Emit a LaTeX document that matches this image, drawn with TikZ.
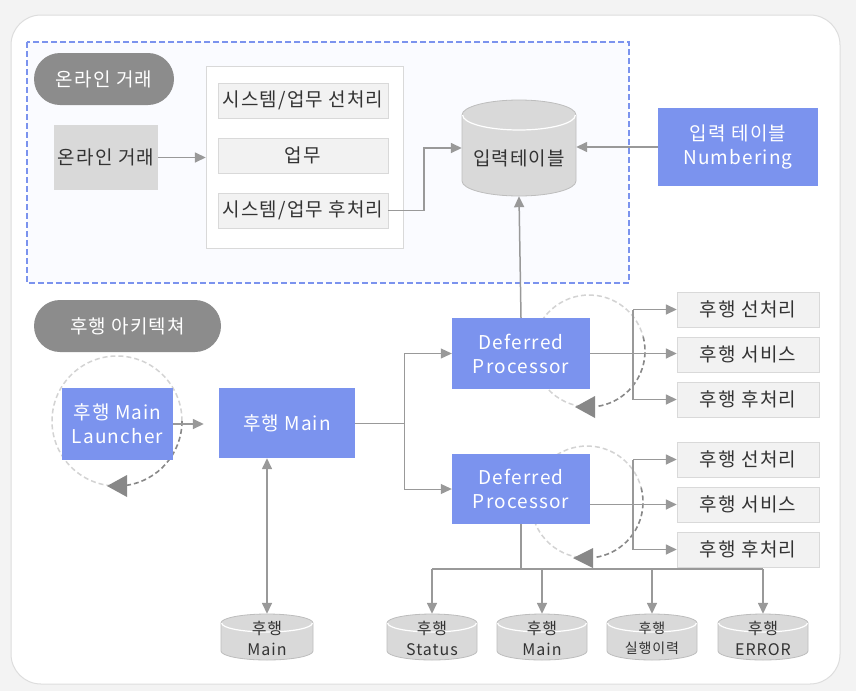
\documentclass[tikz,border=0pt]{standalone}
\usepackage{fontspec}
\setmainfont{Noto Sans CJK KR}[LetterSpace=6]
\usetikzlibrary{arrows.meta,calc}
\definecolor{bgc}{HTML}{F3F3F3}
\definecolor{frame}{HTML}{DDDDDD}
\definecolor{blu}{HTML}{7B93EE}
\definecolor{dashbg}{HTML}{FAFBFF}
\definecolor{pillc}{HTML}{8C8C8C}
\definecolor{boxfill}{HTML}{F2F2F2}
\definecolor{boxline}{HTML}{D9D9D9}
\definecolor{onlfill}{HTML}{D9D9D9}
\definecolor{txt}{HTML}{333333}
\definecolor{arrc}{HTML}{999999}
\definecolor{cylfill}{HTML}{D9D9D9}
\definecolor{cyledge}{HTML}{BDBDBD}
\definecolor{circlight}{HTML}{D3D3D3}
\definecolor{circdark}{HTML}{888888}
\newcommand{\dbcyl}[6]{%
  \path[fill=cylfill,draw=cyledge,line width=0.8pt]
    ({#2-#4/2},{#3-#5/2+#6}) -- ({#2-#4/2},{#3+#5/2-#6})
    arc[start angle=180,end angle=0,x radius={#4/2},y radius=#6]
    -- ({#2+#4/2},{#3-#5/2+#6})
    arc[start angle=0,end angle=-180,x radius={#4/2},y radius=#6] -- cycle;
  \draw[draw=white,line width=1.2pt] ({#2+#4/2-0.6},{#3-#5/2+#6})
    arc[start angle=0,end angle=180,x radius={#4/2-0.6},y radius=#6];
  \node[minimum width=#4pt,minimum height=#5pt,inner sep=0pt] (#1) at (#2,#3) {};
}
\tikzset{
  fl/.style={font=\fontsize{19}{24}\selectfont},
  fs/.style={font=\fontsize{16}{21}\selectfont},
  graybox/.style={draw=boxline,fill=boxfill,text=txt,minimum width=170pt,minimum height=35pt,inner sep=0pt,fl},
  subbox/.style={draw=boxline,fill=boxfill,text=txt,minimum width=142pt,minimum height=35pt,inner sep=0pt,fl},
  bluebox/.style={fill=blu,text=white,inner sep=0pt,align=center,fl},
  pill/.style={fill=pillc,text=white,rounded corners=26pt,minimum height=52pt,inner sep=0pt,fl},
  arr/.style={draw=arrc,line width=1.5pt,-{Triangle[length=11pt,width=10pt]}},
  arrboth/.style={draw=arrc,line width=1.5pt,{Triangle[length=11pt,width=10pt]}-{Triangle[length=11pt,width=10pt]}},
  ln/.style={draw=arrc,line width=1.5pt},
  thinln/.style={draw=arrc,line width=1pt},
  cl/.style={draw=circlight,line width=1.5pt,dash pattern=on 5pt off 3pt},
  cd/.style={draw=circdark,line width=1.6pt,dash pattern=on 5pt off 3pt},
  ctext/.style={text=txt,align=center,fs},
}
\begin{document}
\begin{tikzpicture}[x=1pt,y=-1pt]
\useasboundingbox (0,0) rectangle (856,691);
\fill[bgc] (0,0) rectangle (856,691);
\path[fill=white,draw=frame,line width=1pt,rounded corners=30pt] (11,15) rectangle (840,684);
% online area
\path[fill=dashbg,draw=blu,line width=2.2pt,dash pattern=on 6pt off 3pt] (27,42) rectangle (629,283);
\node[pill,minimum width=140pt] (p1) at (104,79) {온라인 거래};
\node[fill=onlfill,text=txt,minimum width=104pt,minimum height=65pt,inner sep=0pt,fl] (onl) at (106,157.5) {온라인 거래};
\node[draw=boxline,fill=white,minimum width=197pt,minimum height=182pt,inner sep=0pt] (cont) at (304.5,157) {};
\node[graybox] (pre) at (303,100.5) {시스템/업무 선처리};
\node[graybox] (biz) at (303,155.5) {업무};
\node[graybox] (post) at (303,210.5) {시스템/업무 후처리};
\dbcyl{inp}{519}{148}{114}{96}{15}
\node[text=txt,fl] (inpt) at (519,158) {입력테이블};
\node[bluebox,minimum width=160pt,minimum height=78pt] (num) at (738,147) {입력 테이블\\Numbering};
\draw[arr] (onl.east) -- (cont.west |- onl.east);
\coordinate (k1) at (424,0);
\draw[arr] (post.east) -| (k1 |- inp.west) -- (inp.west);
\draw[arr] (num.west) -- (inp.east |- num.west);
% deferred architecture
\node[pill,minimum width=187pt] (p2) at (127.5,326) {후행 아키텍쳐};
% loops
\draw[cl] (117,421) ++(95:65) arc[start angle=95,end angle=360,radius=65];
\draw[cd] (117,421) ++(0:65) arc[start angle=0,end angle=82,radius=65];
\fill[circdark] (107,486) -- (127,475) -- (127,497) -- cycle;
\draw[cl] (589,351) ++(98:56) arc[start angle=98,end angle=345,radius=56];
\draw[cd] (589,351) ++(-15:56) arc[start angle=-15,end angle=82,radius=56];
\fill[circdark] (575,407) -- (595,396) -- (595,418) -- cycle;
\draw[cl] (587,502) ++(98:56) arc[start angle=98,end angle=345,radius=56];
\draw[cd] (587,502) ++(-15:56) arc[start angle=-15,end angle=82,radius=56];
\fill[circdark] (573,558) -- (593,548) -- (593,568) -- cycle;
% blue boxes
\node[bluebox,minimum width=111pt,minimum height=72pt] (lau) at (117.5,424) {후행 Main\\Launcher};
\node[bluebox,minimum width=136pt,minimum height=70pt] (mainb) at (287,423) {후행 Main};
\node[bluebox,minimum width=138pt,minimum height=71pt] (dp1) at (521,353.5) {Deferred\\Processor};
\node[bluebox,minimum width=138pt,minimum height=70pt] (dp2) at (521,489) {Deferred\\Processor};
% sub boxes
\node[subbox] (a1) at (748,309.5) {후행 선처리};
\node[subbox] (a2) at (748,354.5) {후행 서비스};
\node[subbox] (a3) at (748,399.5) {후행 후처리};
\node[subbox] (b1) at (748,459.5) {후행 선처리};
\node[subbox] (b2) at (748,504.5) {후행 서비스};
\node[subbox] (b3) at (748,549.5) {후행 후처리};
% bottom cylinders
\dbcyl{s1}{267}{637}{92}{46}{9}
\dbcyl{c1}{432}{637}{90}{46}{9}
\dbcyl{c2}{542}{637}{90}{46}{9}
\dbcyl{c3}{652}{637}{90}{46}{9}
\dbcyl{c4}{763}{637}{90}{46}{9}
\node[ctext] (s1t) at (267,638) {후행\\Main};
\node[ctext] (c1t) at (432,638) {후행\\Status};
\node[ctext] (c2t) at (542,638) {후행\\Main};
\node[text=txt,align=center,font=\fontsize{14}{20}\selectfont] (c3t) at (652,638) {후행\\실행이력};
\node[ctext] (c4t) at (763,638) {후행\\ERROR};
% connectors
\draw[arr,shorten >=15pt] (lau.east) -- (mainb.west |- lau.east);
\coordinate (j) at (404,423);
\draw[thinln] (mainb.east) -- (mainb.east -| j);
\draw[arr,line width=1pt] (mainb.east -| j) |- (dp1.west);
\draw[arr,line width=1pt] (mainb.east -| j) |- (dp2.west);
\draw[arr] (dp1.north) -- (inp.south);
\draw[arrboth] (s1.north) -- (s1.north |- mainb.south);
\coordinate (bus) at (633,0);
\draw[arr] (dp1.east) -- (a2.west |- dp1.east);
\draw[ln] (bus |- a1.west) -- (bus |- a3.west);
\draw[arr] (bus |- a1.west) -- (a1.west);
\draw[arr] (bus |- a3.west) -- (a3.west);
\draw[arr] (dp2.east |- b2.west) -- (b2.west);
\draw[ln] (bus |- b1.west) -- (bus |- b3.west);
\draw[arr] (bus |- b1.west) -- (b1.west);
\draw[arr] (bus |- b3.west) -- (b3.west);
\coordinate (hb) at (0,569);
\draw[ln] (dp2.south) -- (dp2.south |- hb);
\draw[ln] (c1.north |- hb) -- (c4.north |- hb);
\draw[arr] (c1.north |- hb) -- (c1.north);
\draw[arr] (c2.north |- hb) -- (c2.north);
\draw[arr] (c3.north |- hb) -- (c3.north);
\draw[arr] (c4.north |- hb) -- (c4.north);
\end{tikzpicture}
\end{document}
